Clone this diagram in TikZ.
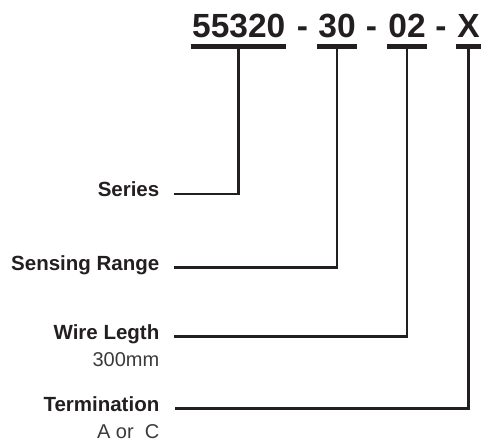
\documentclass[tikz,border=0pt]{standalone}
\usepackage{fontspec}
\setmainfont{Liberation Sans}
\definecolor{ink}{HTML}{231F20}
\definecolor{softink}{HTML}{3A3A3A}

\begin{document}
\begin{tikzpicture}[x=1pt, y=-1pt,
        code/.style={font={\fontsize{33.5}{36}\selectfont\bfseries}, ink, anchor=base, inner xsep=1pt, inner ysep=0pt},
        lbl/.style={font={\fontsize{20.5}{24}\selectfont\bfseries}, ink, anchor=base east, inner sep=0pt},
        note/.style={font={\fontsize{20}{24}\selectfont}, softink, anchor=base east, inner sep=0pt},
        bar/.style={ink, line width=5pt},
        conn/.style={ink, line width=2.6pt}]
        \useasboundingbox (0,0) rectangle (484,442);
        \node[code] (ser) at (238.7,37) {55320};
        \node[code] (dash1) at (302.5,37) {-};
        \node[code] (rng) at (337,37) {30};
        \node[code] (dash2) at (371.5,37) {-};
        \node[code] (len) at (407,37) {02};
        \node[code] (dash3) at (441,37) {-};
        \node[code] (term) at (468.5,37) {X};
        \foreach \n in {ser, rng, len, term} {
            \draw[bar] ([yshift=-9pt]\n.base west) -- ([yshift=-9pt]\n.base east);
            \coordinate (\n-bar) at ([yshift=-9pt]\n.base);
        }
        \node[lbl] (series) at (159.5,196.5) {Series};
        \node[lbl] (sensing) at (159.5,270) {Sensing Range};
        \node[lbl] (wire) at (159.5,339.3) {Wire Legth};
        \node[note] (wirelen) at (159.5,366.7) {300mm};
        \node[lbl] (termin) at (159.5,411) {Termination};
        \node[note] (termopt) at (159.5,438.3) {A or\ \ C};
        \draw[conn] ([xshift=14.5pt]series.mid east) -| (ser-bar);
        \draw[conn] ([xshift=14.5pt]sensing.mid east) -| (rng-bar);
        \draw[conn] ([xshift=14.5pt]wire.mid east) -| (len-bar);
        \draw[conn] ([xshift=15.5pt]termin.mid east) -| (term-bar);
    \end{tikzpicture}
\end{document}
